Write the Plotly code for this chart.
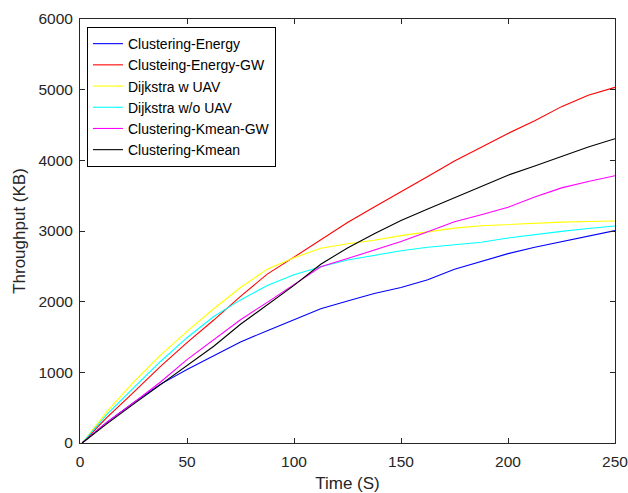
import plotly.graph_objects as go

time_s = [1, 12.5, 25, 37.5, 50, 62.5, 75, 87.5, 100, 112.5, 125, 137.5, 150,
          162.5, 175, 187.5, 200, 212.5, 225, 237.5, 250]

clustering_energy = [0, 290, 570, 830, 1040, 1240, 1430, 1590, 1740, 1900, 2010, 2115,
                     2200, 2310, 2460, 2570, 2680, 2770, 2850, 2930, 3005]
clustering_energy_gw = [0, 360, 715, 1080, 1420, 1740, 2075, 2390, 2630, 2880, 3120, 3340,
                        3550, 3770, 3990, 4190, 4380, 4560, 4760, 4920, 5033]
dijkstra_w_uav = [0, 440, 860, 1240, 1580, 1900, 2200, 2460, 2620, 2755, 2820, 2870,
                  2935, 2990, 3040, 3075, 3095, 3115, 3125, 3135, 3141]
dijkstra_wo_uav = [0, 400, 780, 1150, 1490, 1790, 2025, 2230, 2380, 2495, 2590, 2660,
                   2720, 2770, 2805, 2840, 2900, 2950, 2995, 3035, 3071]
clustering_kmean_gw = [0, 290, 570, 860, 1180, 1460, 1745, 1990, 2240, 2495, 2610, 2730,
                       2850, 2990, 3130, 3230, 3335, 3480, 3610, 3700, 3783]
clustering_kmean = [0, 270, 550, 820, 1100, 1370, 1680, 1960, 2230, 2530, 2760, 2960,
                    3150, 3310, 3470, 3640, 3790, 3920, 4060, 4190, 4306]

series_names = ["Clustering-Energy", "Clusteing-Energy-GW", "Dijkstra w UAV",
                "Dijkstra w/o UAV", "Clustering-Kmean-GW", "Clustering-Kmean"]
series_values = [clustering_energy, clustering_energy_gw, dijkstra_w_uav,
                 dijkstra_wo_uav, clustering_kmean_gw, clustering_kmean]
series_colors = ["#0000FF", "#FF0000", "#FFFF00", "#00FFFF", "#FF00FF", "#000000"]

x_ticks = [0, 50, 100, 150, 200, 250]
y_ticks = [0, 1000, 2000, 3000, 4000, 5000, 6000]

FONT = "Liberation Sans, Arial, Helvetica"

fig = go.Figure()
for name, vals, col in zip(series_names, series_values, series_colors):
    fig.add_trace(go.Scatter(x=time_s, y=vals, mode="lines", name=name,
                             line=dict(color=col, width=1.1)))

axis_common = dict(
    showline=True, linecolor="#262626", linewidth=1, mirror="ticks",
    ticks="inside", ticklen=5, tickcolor="#262626", showgrid=False, zeroline=False,
    automargin=False, ticklabeloverflow="allow",
    tickfont=dict(family=FONT, size=15.5, color="#262626"),
)

fig.update_layout(
    width=628, height=493,
    margin=dict(l=80, r=13, t=19, b=50),
    paper_bgcolor="white", plot_bgcolor="white",
    font=dict(family=FONT, color="#262626"),
    xaxis=dict(range=[0, 250], tickvals=x_ticks, ticklabelstandoff=4,
               title=dict(text="Time (S)", font=dict(size=17), standoff=9),
               **axis_common),
    yaxis=dict(range=[0, 6000], tickvals=y_ticks, ticklabelstandoff=3,
               title=dict(text="Throughput (KB)", font=dict(size=17), standoff=8),
               **axis_common),
    legend=dict(x=0.013, y=0.981, xanchor="left", yanchor="top",
                bgcolor="white", bordercolor="#000000", borderwidth=1,
                font=dict(family=FONT, size=14, color="#000000"),
                tracegroupgap=0, itemwidth=30),
    showlegend=True,
)

fig.write_html("out.html")
